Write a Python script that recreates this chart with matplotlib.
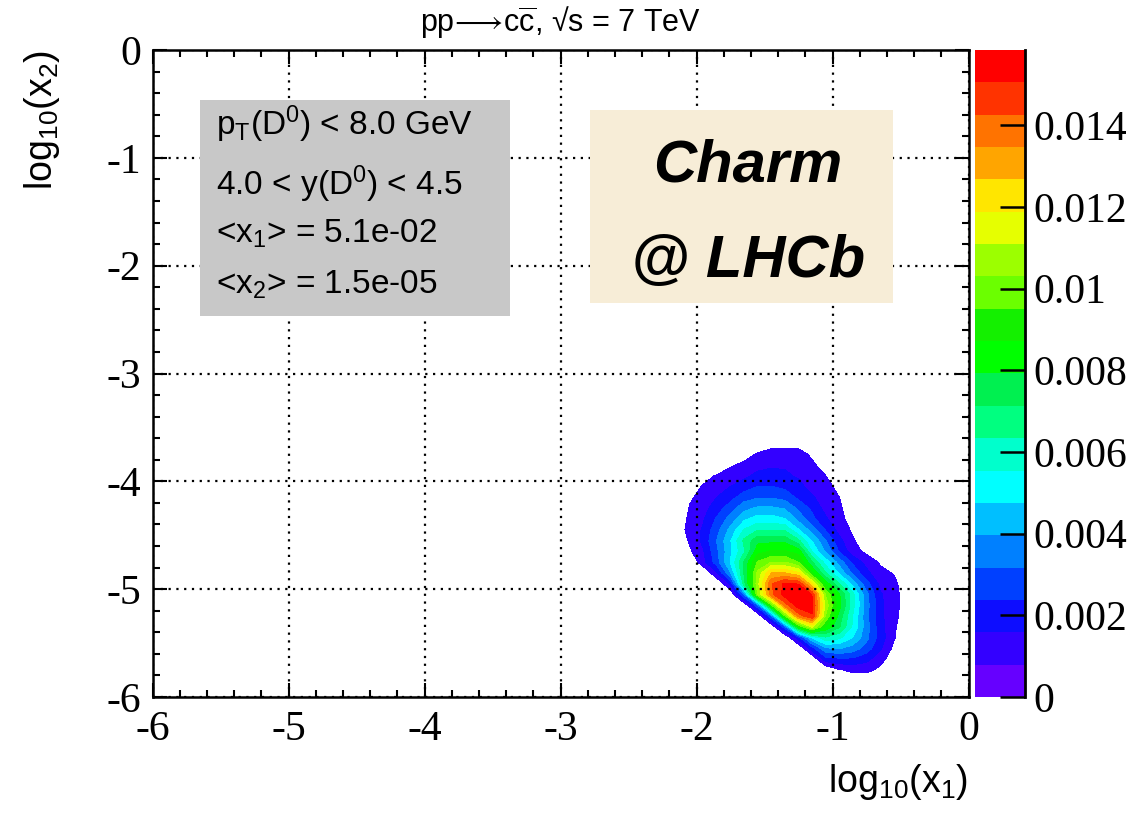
import numpy as np
import matplotlib
matplotlib.use('Agg')
import matplotlib.pyplot as plt
from matplotlib.colors import ListedColormap, BoundaryNorm
from matplotlib.cm import ScalarMappable
from matplotlib.patches import Rectangle

plt.rcParams['font.family'] = ['Liberation Sans', 'DejaVu Sans']
plt.rcParams['mathtext.fontset'] = 'custom'
plt.rcParams['mathtext.rm'] = 'Liberation Sans'
plt.rcParams['mathtext.it'] = 'Liberation Sans:italic'
plt.rcParams['mathtext.bf'] = 'Liberation Sans:bold'
plt.rcParams['axes.unicode_minus'] = False

# bin centres of the 2D histogram
log_x1 = np.array([-2.15, -2.05, -1.95, -1.85, -1.75, -1.65, -1.55, -1.45, -1.35,
                   -1.25, -1.15, -1.05, -0.95, -0.85, -0.75, -0.65, -0.55, -0.45])
log_x2 = np.array([-3.65, -3.75, -3.85, -3.95, -4.05, -4.15, -4.25, -4.35, -4.45,
                   -4.55, -4.65, -4.75, -4.85, -4.95, -5.05, -5.15, -5.25, -5.35,
                   -5.45, -5.55, -5.65, -5.75, -5.85])

# bin contents (units of 1e-4), one row per log_x2 value, top to bottom
density = np.array([
    [0, 0, 0, 0, 0, 0, 2, 4, 4, 4, 1, 0, 0, 0, 0, 0, 0, 0],
    [0, 0, 0, 0, 0, 4, 9, 12, 13, 12, 6, 0, 0, 0, 0, 0, 0, 0],
    [0, 0, 0, 0, 7, 10, 13, 15, 15, 13, 10, 3, 0, 0, 0, 0, 0, 0],
    [0, 0, 4, 9, 11, 14, 18, 18, 17, 15, 11, 8, 2, 0, 0, 0, 0, 0],
    [0, 3, 9, 11, 16, 20, 24, 24, 22, 18, 13, 10, 6, 0, 0, 0, 0, 0],
    [0, 7, 10, 16, 21, 28, 31, 31, 29, 22, 17, 11, 8, 0, 0, 0, 0, 0],
    [0, 8.5, 13, 20, 28, 37, 41, 41, 39, 30, 22, 13, 9, 4, 0, 0, 0, 0],
    [4, 9, 15, 25, 35, 46, 51, 51, 48, 37, 26, 17, 10, 5, 0, 0, 0, 0],
    [4, 10, 17, 29, 42, 56, 63, 63, 62, 48, 36, 23, 13, 6.5, 0, 0, 0, 0],
    [1, 9, 18, 32, 47, 65, 77, 77, 77, 65, 47, 32, 18, 9, 2, 0, 0, 0],
    [0, 6.5, 15, 30, 46, 62, 84, 88, 88, 84, 55, 38, 23, 11, 6, 0, 0, 0],
    [0, 0, 13, 28, 48, 72, 96, 103, 103, 95, 72, 52, 36, 22, 13, 7, 0, 0],
    [0, 0, 0, 15, 39, 72, 105, 127, 127, 120, 88, 64, 46, 30, 18, 10, 7.5, 0],
    [0, 0, 0, 0, 17, 68, 108, 142, 152, 150, 120, 84, 64, 44, 27, 14, 10, 3],
    [0, 0, 0, 0, 0, 32, 102, 140, 154, 158, 150, 102, 80, 58, 34, 17, 10, 5],
    [0, 0, 0, 0, 0, 0, 30, 92, 138, 155, 152, 108, 82, 58, 35, 18, 10, 5],
    [0, 0, 0, 0, 0, 0, 0, 30, 94, 138, 150, 102, 76, 55, 34, 18, 10, 4],
    [0, 0, 0, 0, 0, 0, 0, 0, 28, 86, 112, 86, 72, 54, 35, 19, 9.5, 1],
    [0, 0, 0, 0, 0, 0, 0, 0, 0, 20, 48, 62, 57, 47, 34, 20, 9, 0],
    [0, 0, 0, 0, 0, 0, 0, 0, 0, 0, 20, 38, 40, 36, 28, 17, 6, 0],
    [0, 0, 0, 0, 0, 0, 0, 0, 0, 0, 0, 20, 22, 22, 18, 11, 3, 0],
    [0, 0, 0, 0, 0, 0, 0, 0, 0, 0, 0, 0, 7, 10, 10, 6, 0, 0],
    [0, 0, 0, 0, 0, 0, 0, 0, 0, 0, 0, 0, 0, 2, 2, 0, 0, 0],
]) * 1e-4

z_max = 0.01584
n_bands = 20

# palette of the contour bands, lowest to highest
band_colors = ['#6600FF', '#3300FF', '#0D0DFF', '#0040FF', '#0080FF', '#00BFFF',
               '#00FFFF', '#00FFCC', '#00FF80', '#00F050', '#00FF00', '#14F000',
               '#6BFF00', '#9CFF00', '#E6FF00', '#FFE600', '#FFA500', '#FF7300',
               '#FF3300', '#FF0000']

axis_ticks = [-6, -5, -4, -3, -2, -1, 0]
axis_tick_labels = ['-6', '-5', '-4', '-3', '-2', '-1', '0']
cbar_ticks = [0, 0.002, 0.004, 0.006, 0.008, 0.010, 0.012, 0.014]
cbar_tick_labels = ['0', '0.002', '0.004', '0.006', '0.008', '0.01', '0.012', '0.014']

info_lines = [r'p$_{\rm T}$(D$^{0}$) < 8.0 GeV',
              r'4.0 < y(D$^{0}$) < 4.5',
              r'<x$_{1}$> = 5.1e-02',
              r'<x$_{2}$> = 1.5e-05']

W, H = 1143, 815
fig = plt.figure(figsize=(W / 100, H / 100), dpi=100)

# axes frame in pixels: left 152.5, right 968.5, top 50, bottom 697
ax = fig.add_axes([152.5 / W, 1 - 697 / H, 816 / W, 647 / H])
cax = fig.add_axes([975 / W, 1 - 697 / H, 50 / W, 647 / H])

levels = np.linspace(0, z_max, n_bands + 1)

# the lowest band is empty (outside the distribution), so start at level 1
ax.contourf(log_x1, log_x2, density, levels=levels[1:], colors=band_colors[1:],
            zorder=1)

ax.set_xlim(-6, 0)
ax.set_ylim(-6, 0)
ax.set_xticks(axis_ticks)
ax.set_yticks(axis_ticks)
ax.set_xticklabels(axis_tick_labels, fontfamily='Liberation Serif', fontsize=30)
ax.set_yticklabels(axis_tick_labels, fontfamily='Liberation Serif', fontsize=30)
ax.xaxis.set_minor_locator(plt.MultipleLocator(0.2))
ax.yaxis.set_minor_locator(plt.MultipleLocator(0.2))
ax.tick_params(which='both', direction='in', top=True, right=True, width=1.5)
ax.tick_params(which='major', length=10)
ax.tick_params(which='minor', length=5)
ax.tick_params(axis='x', which='major', pad=10)
ax.tick_params(axis='y', which='major', pad=8)
for sp in ax.spines.values():
    sp.set_linewidth(1.8)

ax.set_axisbelow(False)
ax.grid(True, which='major', color='black', linestyle=(0, (1, 2.5)), linewidth=1.6)

ax.set_xlabel(r'log$_{10}$(x$_{1}$)', fontsize=27, loc='right')
ax.xaxis.set_label_coords(1.0, -0.10)
ax.set_ylabel(r'log$_{10}$(x$_{2}$)', fontsize=27, loc='top')
ax.yaxis.set_label_coords(-0.111, 1.0)

# info box
ax.add_patch(Rectangle((0.058, 0.589), 0.380, 0.334, transform=ax.transAxes,
                       facecolor='#C8C8C8', edgecolor='none', zorder=4))
for txt, yb in zip(info_lines, [0.8686, 0.7759, 0.7017, 0.6229]):
    ax.text(0.0778, yb, txt, transform=ax.transAxes, fontsize=24,
            va='baseline', ha='left', zorder=5)

# label box
ax.add_patch(Rectangle((0.536, 0.6094), 0.372, 0.2986, transform=ax.transAxes,
                       facecolor='#F7EDD7', edgecolor='none', zorder=4))
ax.text(0.7298, 0.7965, 'Charm', transform=ax.transAxes, fontsize=43,
        fontweight='bold', fontstyle='italic', ha='center', va='baseline', zorder=5)
ax.text(0.7298, 0.6496, '@ LHCb', transform=ax.transAxes, fontsize=43,
        fontweight='bold', fontstyle='italic', ha='center', va='baseline', zorder=5)

fig.text(560.5 / W, 1 - 22 / H,
         r'pp$\!\longrightarrow\!$c$\overline{\rm c}$, √s = 7 TeV',
         ha='center', va='center', fontsize=22)

# colour scale
sm = ScalarMappable(norm=BoundaryNorm(levels, n_bands), cmap=ListedColormap(band_colors))
cb = fig.colorbar(sm, cax=cax, ticks=cbar_ticks)
cb.set_ticklabels(cbar_tick_labels)
cb.outline.set_visible(False)
cax.axvline(1, color='black', lw=2, clip_on=False)
cax.tick_params(direction='in', length=18, width=1.8, pad=6, labelsize=30)
for lbl in cax.get_yticklabels():
    lbl.set_fontfamily('Liberation Serif')
cax.minorticks_off()

fig.savefig('out.png', dpi=100)
